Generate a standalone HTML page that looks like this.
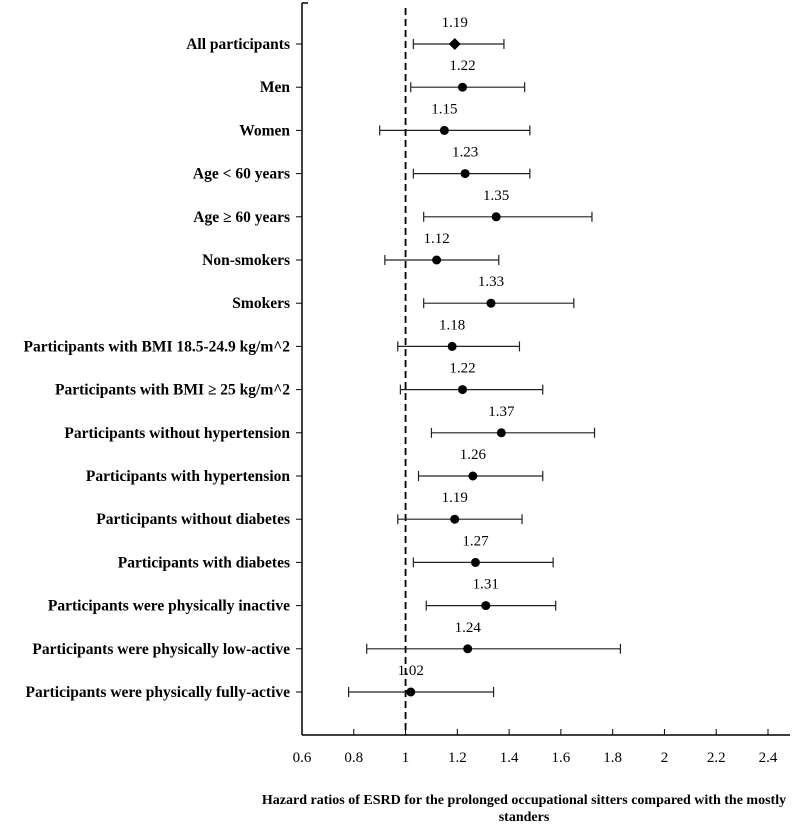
<!DOCTYPE html>
<html><head><meta charset="utf-8"><style>
body{margin:0;background:#fff}
svg text{font-family:"Liberation Serif",serif;fill:#000}
</style></head><body>
<svg id="chart" width="796" height="828" xmlns="http://www.w3.org/2000/svg"></svg>
<script>
const categories=["All participants","Men","Women","Age < 60 years","Age \u2265 60 years","Non-smokers","Smokers","Participants with BMI 18.5-24.9 kg/m^2","Participants with BMI \u2265 25 kg/m^2","Participants without hypertension","Participants with hypertension","Participants without diabetes","Participants with diabetes ","Participants were physically inactive","Participants were physically low-active","Participants were physically fully-active"];
const hr=[1.19,1.22,1.15,1.23,1.35,1.12,1.33,1.18,1.22,1.37,1.26,1.19,1.27,1.31,1.24,1.02];
const lower=[1.03,1.02,0.90,1.03,1.07,0.92,1.07,0.97,0.98,1.10,1.05,0.97,1.03,1.08,0.85,0.78];
const upper=[1.38,1.46,1.48,1.48,1.72,1.36,1.65,1.44,1.53,1.73,1.53,1.45,1.57,1.58,1.83,1.34];
const xTicks=[0.6,0.8,1,1.2,1.4,1.6,1.8,2,2.2,2.4];
const xTickLabels=["0.6","0.8","1","1.2","1.4","1.6","1.8","2","2.2","2.4"];
const svg=document.getElementById('chart');
const NS="http://www.w3.org/2000/svg";
const X=v=>302+(v-0.6)*(466/1.8);
const Y=i=>44+i*43.2;
function mk(t,a,p){const e=document.createElementNS(NS,t);for(const k in a)e.setAttribute(k,a[k]);(p||svg).appendChild(e);return e;}
const baseY=735;
let ax=mk('line',{x1:302,y1:3,x2:302,y2:baseY,stroke:'#000','stroke-width':1.5});


mk('line',{x1:302,y1:3,x2:308,y2:3,stroke:'#000','stroke-width':1.5});
let xa=mk('line',{x1:302,y1:baseY,x2:790,y2:baseY,stroke:'#000','stroke-width':1.5});


xTicks.forEach((v,i)=>{
  mk('line',{x1:X(v),y1:baseY-6,x2:X(v),y2:baseY,stroke:'#000','stroke-width':1});
  const t=mk('text',{x:X(v),y:762,'text-anchor':'middle','font-size':15});
  t.textContent=xTickLabels[i];
  
  
});
const ref=mk('line',{x1:X(1),y1:8,x2:X(1),y2:baseY,stroke:'#000','stroke-width':1.8,'stroke-dasharray':'7,4'});


categories.forEach((c,i)=>{
  const y=Y(i);
  mk('line',{x1:296,y1:y,x2:302,y2:y,stroke:'#000','stroke-width':1});
  const l=mk('text',{x:290,y:y+5,'text-anchor':'end','font-size':15.5,'font-weight':'bold','textLength':0});
  l.removeAttribute('textLength');
  l.textContent=c;
  
  
  const g=mk('g',{});
  
  
  mk('line',{x1:X(lower[i]),y1:y,x2:X(upper[i]),y2:y,stroke:'#222','stroke-width':1.2},g);
  mk('line',{x1:X(lower[i]),y1:y-5,x2:X(lower[i]),y2:y+5,stroke:'#222','stroke-width':1.2},g);
  mk('line',{x1:X(upper[i]),y1:y-5,x2:X(upper[i]),y2:y+5,stroke:'#222','stroke-width':1.2},g);
  if(i===0){mk('path',{d:`M${X(hr[i])-6} ${y}L${X(hr[i])} ${y-6}L${X(hr[i])+6} ${y}L${X(hr[i])} ${y+6}Z`,fill:'#000'},g);}
  else mk('circle',{cx:X(hr[i]),cy:y,r:4.5,fill:'#000'},g);
  const v=mk('text',{x:X(hr[i]),y:y-17,'text-anchor':'middle','font-size':15},g);
  v.textContent=hr[i].toFixed(2);
  
  
});
const t1=mk('text',{x:524,y:804,'text-anchor':'middle','font-size':14,'font-weight':'bold'});
t1.textContent="Hazard ratios of ESRD for the prolonged  occupational sitters compared with the mostly";


const t2=mk('text',{x:524,y:821,'text-anchor':'middle','font-size':14,'font-weight':'bold'});
t2.textContent="standers";


</script>
</body></html>
